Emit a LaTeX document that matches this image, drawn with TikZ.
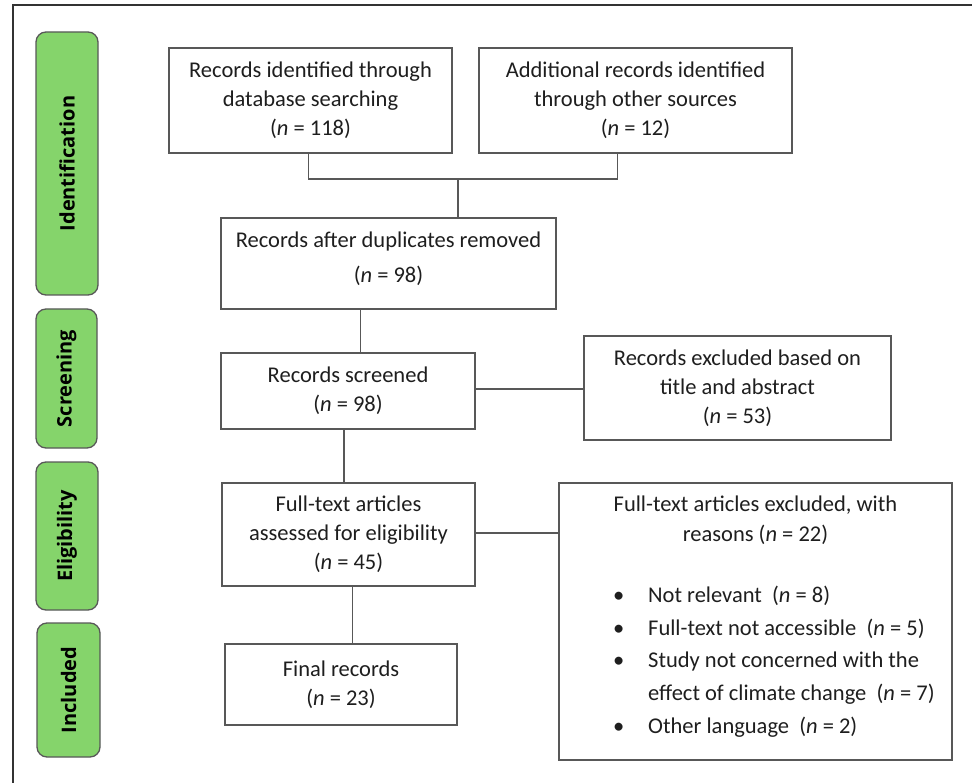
\documentclass[tikz,border=0pt]{standalone}
\usepackage{fontspec}
\setmainfont{Carlito}
\newfontfamily\phasefont{Open Sans}
\usepackage{tikz}
\definecolor{phasegreen}{RGB}{133,212,107}
\definecolor{edgegray}{RGB}{88,88,88}
\definecolor{txt}{RGB}{30,30,30}
\tikzset{
	box/.style 2 args={draw=edgegray,line width=1.3pt,minimum width=#1,minimum height=#2,align=center,inner sep=0pt,text=txt,font=\fontsize{22.5}{29}\selectfont},
	phase/.style 2 args={draw=edgegray,fill=phasegreen,rounded corners=10pt,line width=1.3pt,minimum width=#1,minimum height=#2,inner sep=0pt,rotate=90,font=\phasefont\bfseries\fontsize{20}{22}\selectfont},
	link/.style={draw=edgegray,line width=1.3pt}
}

\begin{document}
\begin{tikzpicture}[x=1pt,y=-1pt]
	\useasboundingbox (0,0) rectangle (972,783);
	\draw [line width=2pt,draw=black!80] (13,800) -- (13,5) -- (990,5);

	\node [phase={263pt}{62pt}] (ident) at (67,163.5) {Identification};
	\node [phase={139pt}{61pt}] (screen) at (66.5,378.5) {Screening};
	\node [phase={148pt}{62pt}] (elig) at (67,536) {Eligibility};
	\node [phase={134pt}{63pt}] (incl) at (68.5,690) {Included};

	\node [box={283pt}{105pt}] (db) at (310.5,100.5) {Records identified through\\database searching\\(\textit{n} = 118)};
	\node [box={313pt}{105pt}] (other) at (635.5,100.5) {Additional records identified\\through other sources\\(\textit{n} = 12)};
	\node [box={335pt}{91pt}] (nodup) at (388.5,263.5) {Records after duplicates removed\\[6pt](\textit{n} = 98)\\[-17pt]\mbox{}};
	\node [box={254pt}{76pt}] (screened) at (348,391) {Records screened\\(\textit{n} = 98)};
	\node [box={307pt}{104pt}] (exclA) at (737.5,388) {Records excluded based on\\title and abstract\\(\textit{n} = 53)};
	\node [box={253pt}{103pt}] (fulltext) at (348.5,534.5) {Full-text articles\\assessed for eligibility\\(\textit{n} = 45)};
	\node [box={393pt}{277pt}] (exclB) at (755.5,621.5) {\begin{minipage}{393pt}
		\centering\fontsize{22.5}{30}\selectfont
		Full-text articles excluded, with\\reasons (\textit{n} = 22)\par
		\vspace{34pt}
		\raggedright\hspace*{54pt}\renewcommand{\arraystretch}{1.09}%
		\begin{tabular}{@{}l@{\hspace{24pt}}l@{}}
			\textbullet & Not relevant\ \ (\textit{n} = 8)\\
			\textbullet & Full-text not accessible\ \ (\textit{n} = 5)\\
			\textbullet & Study not concerned with the\\
			& effect of climate change\ \ (\textit{n} = 7)\\
			\textbullet & Other language\ \ (\textit{n} = 2)
		\end{tabular}\par
		\vspace{4pt}
	\end{minipage}};
	\node [box={232pt}{81pt}] (final) at (341,684.5) {Final records\\(\textit{n} = 23)};

	\coordinate (join) at (458,179);
	\draw [link] ([xshift=-2pt]db.south) |- (join);
	\draw [link] ([xshift=-18pt]other.south) |- (join);
	\draw [link] (join) -- (join |- nodup.north);
	\draw [link] ([xshift=-28pt]nodup.south) -- ([xshift=-28pt]nodup.south |- screened.north);
	\draw [link] ([yshift=2pt]screened.east) -- ([yshift=2pt]screened.east -| exclA.west);
	\draw [link] ([xshift=-4pt]screened.south) -- ([xshift=-4pt]screened.south |- fulltext.north);
	\draw [link] ([yshift=1.5pt]fulltext.east) -- ([yshift=1.5pt]fulltext.east -| exclB.west);
	\draw [link] ([xshift=4pt]fulltext.south) -- ([xshift=4pt]fulltext.south |- final.north);
\end{tikzpicture}
\end{document}
